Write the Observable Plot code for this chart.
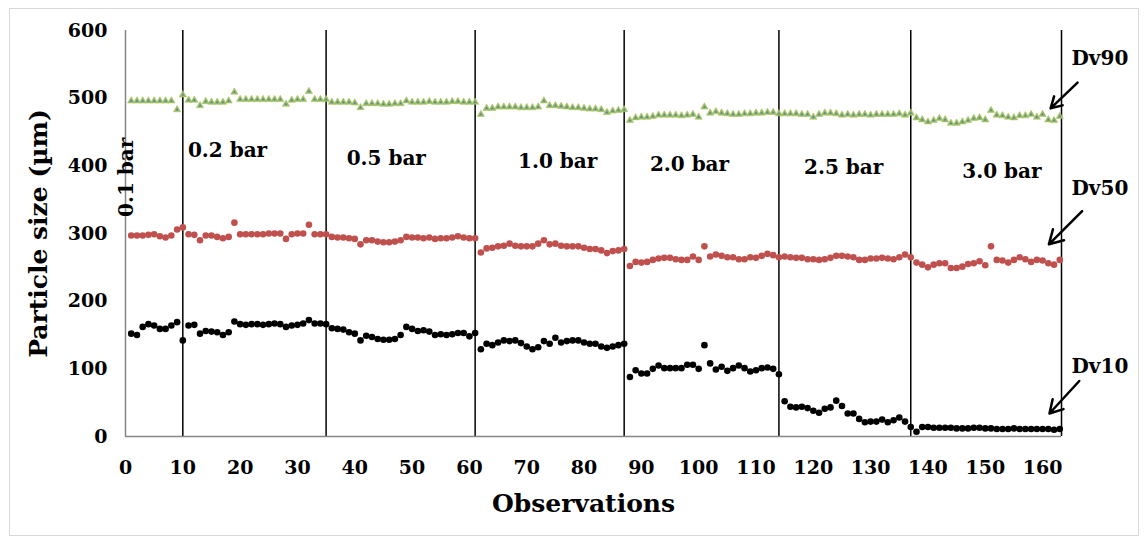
<!DOCTYPE html>
<html>
<head>
<meta charset="utf-8">
<script src="https://cdn.jsdelivr.net/npm/d3@7"></script>
<script src="https://cdn.jsdelivr.net/npm/@observablehq/plot@0.6"></script>
<style>
  html, body { margin: 0; padding: 0; background: #fff; }
  #wrap { position: relative; width: 1145px; height: 540px; overflow: hidden; }
  #border { position: absolute; left: 9px; top: 8px; width: 1128px; height: 526px; border: 1px solid #d9d9d9; pointer-events: none; }
</style>
</head>
<body>
<div id="wrap"><div id="border"></div></div>
<script>
// ---- Data ----
const xTicks = [0, 10, 20, 30, 40, 50, 60, 70, 80, 90, 100, 110, 120, 130, 140, 150, 160];
const yTicks = [0, 100, 200, 300, 400, 500, 600];

const dv10 = [
  152,150,162,166,164,159,159,164,169,142,
  164,165,152,156,155,154,150,154,170,166,
  165,166,166,165,166,167,166,162,164,165,
  167,172,167,167,166,160,159,158,154,152,
  142,149,147,144,143,143,144,150,162,159,
  156,157,155,150,151,150,151,153,153,148,
  153,129,137,135,139,142,141,142,138,133,
  129,132,141,137,146,139,141,142,142,139,
  137,137,133,131,133,135,137,88,98,93,
  93,100,105,101,101,101,101,106,106,100,
  135,108,99,103,97,101,105,101,96,98,
  101,102,100,92,52,44,43,44,42,38,
  35,41,43,53,45,34,34,26,21,22,
  22,25,21,24,28,22,14,7,14,14,
  13,13,13,13,12,12,12,13,13,12,
  12,11,11,11,12,11,11,11,11,11,
  11,10,11
];

const dv50 = [
  297,297,297,298,299,296,294,297,306,309,
  299,298,290,297,297,295,293,295,316,299,
  299,299,299,299,300,300,300,292,299,300,
  300,313,299,299,299,295,294,294,293,292,
  284,290,290,288,287,287,288,290,295,294,
  294,293,294,292,293,293,294,296,294,293,
  293,272,278,279,281,282,285,282,281,281,
  281,285,290,284,285,282,281,281,281,279,
  277,277,275,271,274,275,277,252,258,257,
  258,261,263,264,264,262,261,261,266,261,
  281,266,269,267,265,265,262,262,265,264,
  267,270,268,265,266,265,264,264,262,262,
  261,262,264,267,267,266,265,261,261,263,
  263,264,263,262,265,269,265,257,254,250,
  254,256,256,249,249,251,255,256,259,253,
  281,261,260,257,261,265,262,258,261,260,
  256,254,261
];

const dv90 = [
  496,496,496,496,496,496,496,496,483,505,
  497,497,489,495,494,494,494,496,509,498,
  498,498,498,498,498,498,498,491,497,498,
  498,510,498,498,498,494,494,494,494,493,
  486,492,492,492,491,491,492,492,496,494,
  494,494,495,494,494,494,495,495,494,494,
  494,476,485,485,487,487,487,487,486,486,
  486,487,496,489,489,488,487,486,486,485,
  484,484,483,479,481,482,483,467,471,472,
  472,473,475,475,475,475,474,475,476,472,
  487,478,480,478,477,476,476,477,477,478,
  478,479,479,477,477,477,477,476,476,472,
  476,478,478,477,475,476,475,476,476,475,
  476,476,476,476,477,475,478,471,468,465,
  467,470,468,463,463,465,467,470,471,468,
  482,475,474,472,471,474,474,476,472,476,
  468,467,473
];

// pressure change boundaries (observation numbers)
const boundaries = [10, 35, 61, 87, 114, 137];
const xMax = 163.3;

// ---- Annotations ----
const segLabels = ["0.2 bar", "0.5 bar", "1.0 bar", "2.0 bar", "2.5 bar", "3.0 bar"];
const segLabelX = [17.8, 45.5, 75.4, 98.4, 125.3, 152.9];
const segLabelY = [423, 411, 407, 402, 397, 391];
const firstLabel = "0.1 bar";
const seriesNames = ["Dv90", "Dv50", "Dv10"];
const seriesLabelX = [170, 170, 170];
const seriesLabelY = [559, 366, 103];
const arrowX1 = [166.1, 166.9, 166.4];
const arrowY1 = [523, 333, 82];
const arrowX2 = [161.4, 161.1, 161.2];
const arrowY2 = [485, 284, 34];

// ---- Build tables ----
const rows = dv10.map((v, i) => ({obs: i + 1, dv10: v, dv50: dv50[i], dv90: dv90[i]}));
const segRows = segLabels.map((t, i) => ({t, x: segLabelX[i], y: segLabelY[i]}));
const serRows = seriesNames.map((t, i) => ({t, x: seriesLabelX[i], y: seriesLabelY[i],
  x1: arrowX1[i], y1: arrowY1[i], x2: arrowX2[i], y2: arrowY2[i]}));

const font = "'DejaVu Serif', serif";

const chart = Plot.plot({
  width: 1145,
  height: 540,
  marginLeft: 125,
  marginRight: 84,
  marginTop: 30,
  marginBottom: 104,
  style: {fontFamily: font, fontWeight: "bold", fontSize: "19px", color: "#000", background: "transparent", overflow: "visible"},
  x: {domain: [0, xMax]},
  y: {domain: [0, 600]},
  marks: [
    Plot.axisX({ticks: xTicks, tickSize: 0, tickPadding: 24, label: null, fontSize: 19, fontWeight: "bold"}),
    Plot.axisY({ticks: yTicks, tickSize: 0, tickPadding: 18, label: null, fontSize: 19, fontWeight: "bold"}),
    Plot.ruleX(boundaries, {stroke: "#000", strokeWidth: 1.5}),
    Plot.ruleX([xMax], {stroke: "#000", strokeWidth: 1.5}),
    Plot.ruleX([0], {stroke: "#868686", strokeWidth: 1.5}),
    Plot.ruleY([0], {stroke: "#868686", strokeWidth: 1.5}),
    Plot.dot(rows, {x: "obs", y: "dv90", symbol: "triangle", r: 2.7, fill: "#9bbb59", stroke: "#a9c66e", strokeWidth: 0.6}),
    Plot.dot(rows, {x: "obs", y: "dv90", symbol: "triangle", r: 1.0, fill: "#4f81bd"}),
    Plot.dot(rows, {x: "obs", y: "dv50", r: 3.3, fill: "#c0504d"}),
    Plot.dot(rows, {x: "obs", y: "dv10", r: 3.3, fill: "#000"}),
    Plot.text(segRows, {x: "x", y: "y", text: "t", fontSize: 20, fontWeight: "bold", fill: "#000"}),
    Plot.text([firstLabel], {x: 0.2, y: 383, text: d => d, rotate: -90, fontSize: 20, fontWeight: "bold", fill: "#000"}),
    Plot.text(serRows, {x: "x", y: "y", text: "t", fontSize: 20, fontWeight: "bold", fill: "#000"}),
    Plot.arrow(serRows, {x1: "x1", y1: "y1", x2: "x2", y2: "y2", stroke: "#000", strokeWidth: 2.5, headLength: 10}),
    Plot.text(["Particle size (µm)"], {frameAnchor: "left", dx: -87, rotate: -90, textAnchor: "middle", lineAnchor: "middle", text: d => d, fontSize: 25, fontWeight: "bold", fill: "#000"}),
    Plot.text(["Observations"], {frameAnchor: "bottom", dx: -10, dy: 67, textAnchor: "middle", lineAnchor: "middle", text: d => d, fontSize: 25, fontWeight: "bold", fill: "#000"})
  ]
});
document.getElementById("wrap").prepend(chart);
</script>
</body>
</html>
